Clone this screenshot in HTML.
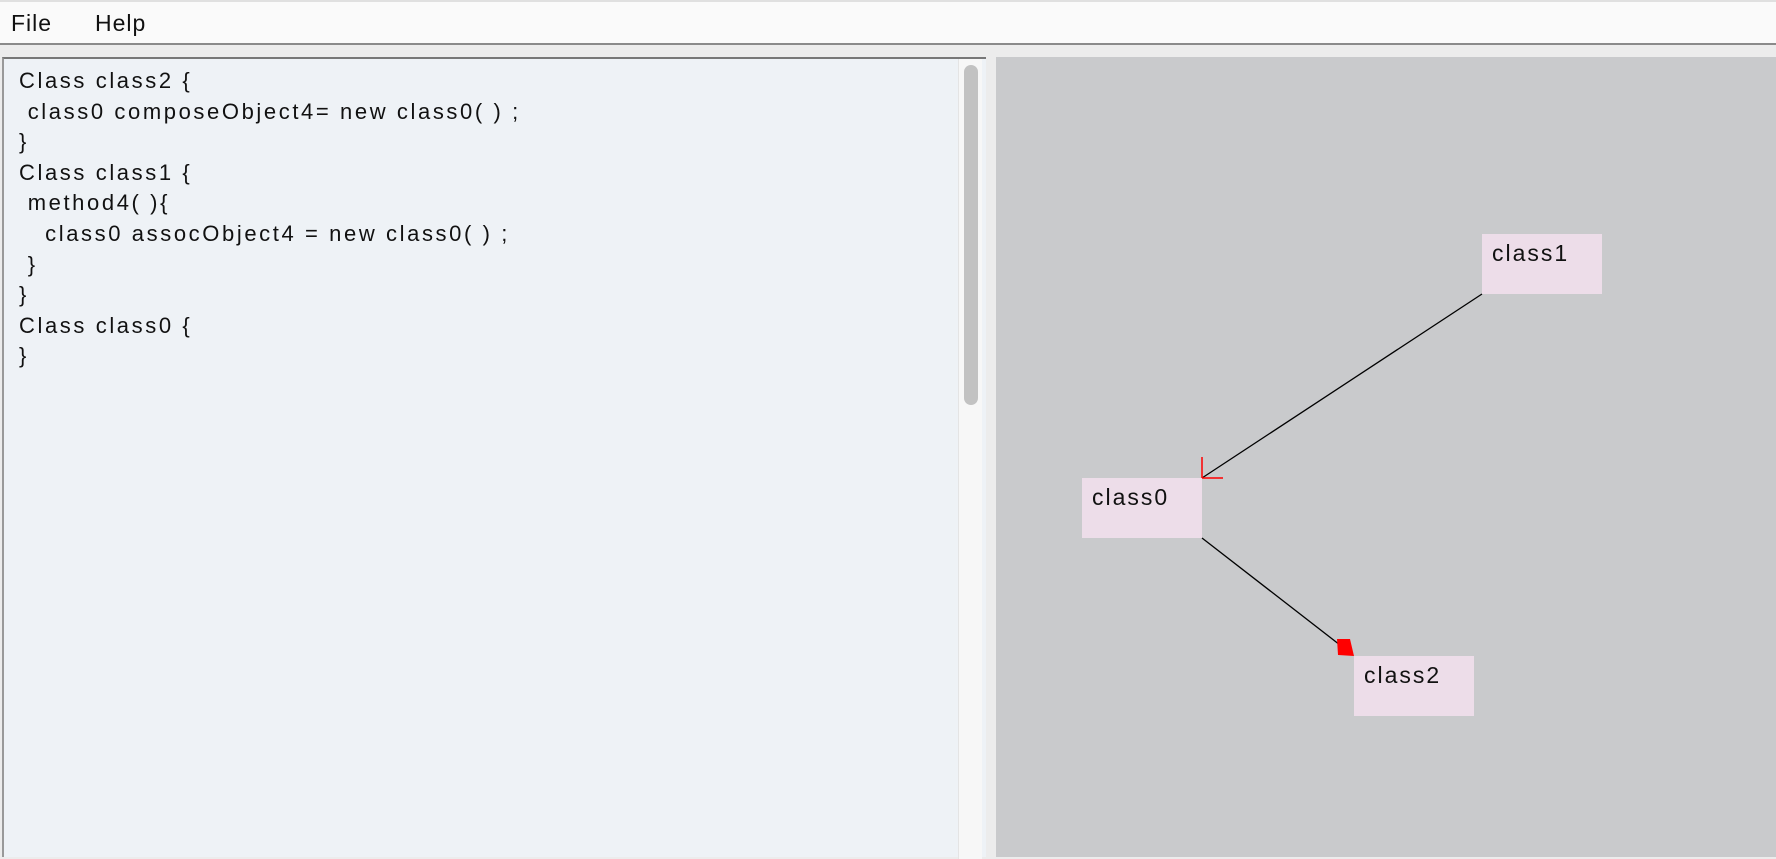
<!DOCTYPE html>
<html><head><meta charset="utf-8"><style>
*{margin:0;padding:0;box-sizing:border-box}
body{width:1776px;height:844px;overflow:hidden;background:#ececec;font-family:"Liberation Sans",sans-serif;position:relative}
#menu{position:absolute;left:0;top:0;width:1776px;height:45px;background:#fafafa;border-top:2px solid #e0e0e0;border-bottom:2px solid #8a8a8a}
#menu span{position:absolute;top:8px;font-size:23px;color:#111;letter-spacing:1px}
#left{position:absolute;left:2px;top:57px;width:984px;height:800px;background:#eef2f6;border-top:2px solid #777;border-left:2px solid #999}
#code{position:absolute;left:15px;top:7px;font-size:22px;letter-spacing:2.6px;line-height:30.6px;color:#111;white-space:pre}
#sbar{position:absolute;left:954px;top:0;width:24px;height:800px;background:#f7f7f7;border-left:1px solid #e4e4e4}
#thumb{position:absolute;left:5px;top:6px;width:14px;height:340px;background:#c2c2c2;border-radius:7px}
#right{position:absolute;left:996px;top:57px;width:780px;height:800px;background:#c9cacc}
.node{position:absolute;width:120px;height:60px;background:#eddde9;font-size:23px;letter-spacing:2px;color:#111;padding:6px 0 0 10px}
</style></head><body>
<div id="menu"><span style="left:11px">File</span><span style="left:95px">Help</span></div>
<div id="left"><div id="code">Class class2 {
 class0 composeObject4= new class0( ) ;
}
Class class1 {
 method4( ){
   class0 assocObject4 = new class0( ) ;
 }
}
Class class0 {
}</div><div id="sbar"><div id="thumb"></div></div></div>
<div id="right"></div>
<svg width="1776" height="844" style="position:absolute;left:0;top:0">
<line x1="1482" y1="294" x2="1202" y2="478" stroke="#000" stroke-width="1.3"/>
<line x1="1202" y1="538" x2="1340" y2="645" stroke="#000" stroke-width="1.3"/>
<polyline points="1202,457 1202,478 1223,478" fill="none" stroke="#f00" stroke-width="1.5"/>
<polygon points="1337,639 1350,639 1354,656 1338,655" fill="#f00"/>
</svg>
<div class="node" style="left:1482px;top:234px">class1</div>
<div class="node" style="left:1082px;top:478px">class0</div>
<div class="node" style="left:1354px;top:656px">class2</div>
</body></html>
